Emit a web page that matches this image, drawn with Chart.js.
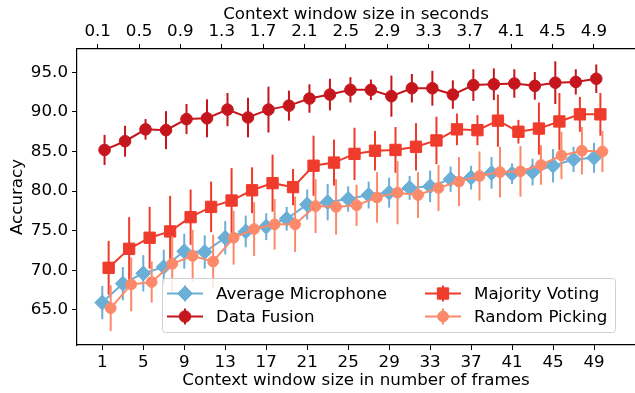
<!DOCTYPE html>
<html lang="en">
<head>
<meta charset="UTF-8">
<title>Accuracy vs context window size</title>
<script src="https://cdn.jsdelivr.net/npm/chart.js@4"></script>
<style>
  html, body { margin: 0; padding: 0; background: #fff; }
</style>
</head>
<body>
<canvas id="accChart" width="635" height="393"></canvas>
<script>
// context window sizes (frames), odd values only
const frames = [1, 3, 5, 7, 9, 11, 13, 15, 17, 19, 21, 23, 25, 27, 29, 31, 33, 35, 37, 39, 41, 43, 45, 47, 49];
const frameTicks = [1, 5, 9, 13, 17, 21, 25, 29, 33, 37, 41, 45, 49];
const secondTicks = [0.1, 0.5, 0.9, 1.3, 1.7, 2.1, 2.5, 2.9, 3.3, 3.7, 4.1, 4.5, 4.9];
const accuracyTicks = [65, 70, 75, 80, 85, 90, 95];

const avgMic = [65.9, 68.3, 69.6, 70.4, 72.4, 72.3, 74.1, 74.9, 75.5, 76.5, 78.3, 78.6, 79.0, 79.5, 79.8, 80.4, 80.6, 81.5, 81.7, 82.3, 82.2, 82.4, 83.2, 84.0, 84.2];
const avgMicErr = [2.1, 2.1, 2.3, 2.2, 2.2, 2.1, 2.1, 2.0, 1.7, 1.5, 1.9, 2.3, 1.6, 1.7, 1.9, 1.5, 2.0, 1.6, 1.5, 2.0, 1.3, 1.7, 2.1, 1.6, 1.9];

const dataFusion = [85.2, 86.3, 87.8, 87.7, 89.1, 89.2, 90.3, 89.3, 90.3, 90.8, 91.7, 92.2, 92.8, 92.8, 92.0, 93.0, 93.0, 92.2, 93.4, 93.5, 93.6, 93.3, 93.7, 93.8, 94.2];
const dataFusionErr = [1.9, 1.95, 1.3, 2.4, 1.9, 2.4, 2.1, 2.5, 2.9, 1.9, 1.8, 2.0, 1.6, 1.3, 2.6, 1.8, 2.2, 1.8, 2.0, 2.0, 1.8, 1.75, 2.7, 1.6, 1.8];

const majorityVoting = [70.3, 72.7, 74.1, 74.9, 76.7, 78.0, 78.8, 80.1, 81.0, 80.5, 83.2, 83.6, 84.7, 85.1, 85.2, 85.6, 86.4, 87.8, 87.7, 88.9, 87.5, 87.9, 88.8, 89.7, 89.7];
const majorityVotingErr = [3.4, 4.0, 3.9, 4.5, 3.5, 3.2, 4.1, 2.9, 3.6, 2.3, 3.8, 2.9, 3.3, 2.5, 2.9, 3.0, 3.0, 2.0, 1.9, 3.3, 1.5, 3.3, 3.6, 2.2, 2.7];

const randomPicking = [65.2, 68.2, 68.5, 70.8, 71.8, 71.1, 74.1, 75.2, 75.8, 75.8, 78.1, 78.0, 78.2, 79.2, 79.8, 79.5, 80.4, 81.2, 81.9, 82.4, 82.5, 83.3, 84.5, 85.1, 85.0];
const randomPickingErr = [2.9, 3.4, 2.6, 3.5, 3.3, 3.4, 3.4, 3.4, 3.2, 3.5, 3.4, 3.5, 2.6, 3.2, 4.0, 2.9, 2.9, 3.1, 3.1, 3.2, 3.2, 2.5, 3.0, 3.0, 2.6];

const FONT = { family: 'DejaVu Sans', size: 16.7 };

// small horizontal shift per series so the error bars don't sit on top of each other
const toPoints = (vals, shift) => vals.map((v, i) => ({ x: frames[i] + shift, y: v }));

const makeSeries = (label, vals, errs, shift, color, style, radius, order) => ({
    label: label,
    data: toPoints(vals, shift),
    errors: errs,
    borderColor: color,
    backgroundColor: color,
    borderWidth: 2,
    pointStyle: style,
    pointRadius: radius,
    pointHoverRadius: radius,
    pointBorderWidth: 1,
    pointBackgroundColor: color,
    pointBorderColor: color,
    tension: 0,
    fill: false,
    order: order
});

const datasets = [
    makeSeries('Average Microphone', avgMic, avgMicErr, 0, '#6baed6', 'rectRot', 7.5, 4),
    makeSeries('Data Fusion', dataFusion, dataFusionErr, 0.22, '#c4161c', 'circle', 5.8, 3),
    makeSeries('Majority Voting', majorityVoting, majorityVotingErr, 0.62, '#ef3b2c', 'rect', 8, 2),
    makeSeries('Random Picking', randomPicking, randomPickingErr, 0.82, '#fc8a6a', 'circle', 5.4, 1)
];

// vertical error bars, drawn just before each series so layering follows the series
const errorBars = {
    id: 'errorBars',
    beforeDatasetDraw(chart, args) {
        const ds = chart.data.datasets[args.index];
        if (!ds.errors) return;
        const { ctx, chartArea } = chart;
        const xs = chart.scales.x, ys = chart.scales.y;
        ctx.save();
        ctx.beginPath();
        ctx.rect(chartArea.left, chartArea.top, chartArea.right - chartArea.left, chartArea.bottom - chartArea.top);
        ctx.clip();
        ctx.strokeStyle = ds.borderColor;
        ctx.lineWidth = 2;
        ds.data.forEach((p, i) => {
            const px = xs.getPixelForValue(p.x);
            ctx.beginPath();
            ctx.moveTo(px, ys.getPixelForValue(p.y - ds.errors[i]));
            ctx.lineTo(px, ys.getPixelForValue(p.y + ds.errors[i]));
            ctx.stroke();
        });
        ctx.restore();
    }
};

// matplotlib-style legend box inside the plot, two columns
const boxLegend = {
    id: 'boxLegend',
    afterDraw(chart) {
        const ctx = chart.ctx;
        const box = { x: 162.5, y: 278.5, w: 453, h: 54 };
        const cols = [167, 425];
        const rows = [293.5, 316.5];
        const layout = [[0, 0, 0], [2, 1, 0], [1, 0, 1], [3, 1, 1]]; // dataset, col, row
        ctx.save();
        ctx.beginPath();
        ctx.roundRect(box.x, box.y, box.w, box.h, 3);
        ctx.fillStyle = 'rgba(255,255,255,0.8)';
        ctx.fill();
        ctx.strokeStyle = '#d0d0d0';
        ctx.lineWidth = 1;
        ctx.stroke();
        ctx.font = FONT.size + 'px ' + FONT.family;
        ctx.textBaseline = 'middle';
        layout.forEach(([di, c, r]) => {
            const ds = chart.data.datasets[di];
            const x0 = cols[c], y = rows[r];
            const mid = x0 + 18;
            ctx.strokeStyle = ds.borderColor;
            ctx.lineWidth = 2;
            ctx.beginPath();
            ctx.moveTo(x0, y);
            ctx.lineTo(x0 + 36, y);
            ctx.moveTo(mid, y - 8);
            ctx.lineTo(mid, y + 8);
            ctx.stroke();
            ctx.fillStyle = ds.pointBackgroundColor;
            ctx.lineWidth = 1;
            Chart.helpers.drawPoint(ctx, {
                pointStyle: ds.pointStyle,
                radius: ds.pointRadius,
                rotation: 0,
                borderWidth: 1
            }, mid, y);
            ctx.fillStyle = '#000';
            ctx.fillText(ds.label, x0 + 49, y + 1);
        });
        ctx.restore();
    }
};

// no extra side padding: the plot runs to the right edge of the canvas
const noSidePad = s => { s.paddingLeft = 0; s.paddingRight = 0; };

const axisBase = {
    type: 'linear',
    grid: { drawOnChartArea: false, drawTicks: true, tickLength: 5, tickWidth: 1, tickColor: '#000' },
    border: { display: true, color: '#000', width: 1.2 },
    ticks: { font: FONT, color: '#000' }
};

new Chart(document.getElementById('accChart').getContext('2d'), {
    type: 'line',
    data: { datasets: datasets },
    options: {
        responsive: false,
        animation: false,
        events: [],
        layout: { padding: 0, autoPadding: false },
        plugins: { legend: { display: false }, tooltip: { enabled: false } },
        scales: {
            x: {
                ...axisBase,
                position: 'bottom',
                min: -1.47,
                max: 53.0,
                ticks: { ...axisBase.ticks, padding: 3, maxRotation: 0, autoSkip: false },
                afterBuildTicks: s => { s.ticks = frameTicks.map(v => ({ value: v })); },
                afterFit: s => { s.height = 48; noSidePad(s); },
                title: { display: true, text: 'Context window size in number of frames', font: FONT, color: '#000', padding: { top: 0, bottom: 2 } }
            },
            x2: {
                ...axisBase,
                position: 'top',
                min: -0.1,
                max: 5.297,
                ticks: { ...axisBase.ticks, padding: 2, maxRotation: 0, autoSkip: false, callback: v => v.toFixed(1) },
                afterBuildTicks: s => { s.ticks = secondTicks.map(v => ({ value: v })); },
                afterFit: s => { s.height = 49; noSidePad(s); },
                title: { display: true, text: 'Context window size in seconds', font: FONT, color: '#000', padding: { top: 5, bottom: 0 } }
            },
            y: {
                ...axisBase,
                position: 'left',
                min: 60.54,
                max: 97.96,
                ticks: { ...axisBase.ticks, padding: 4, callback: v => v.toFixed(1) },
                afterBuildTicks: s => { s.ticks = accuracyTicks.map(v => ({ value: v })); },
                afterFit: s => { s.width = 77; s.paddingTop = 0; s.paddingBottom = 0; },
                title: { display: true, text: 'Accuracy', font: FONT, color: '#000', padding: { top: 8, bottom: 0 } }
            }
        }
    },
    plugins: [errorBars, boxLegend]
});
</script>
</body>
</html>
